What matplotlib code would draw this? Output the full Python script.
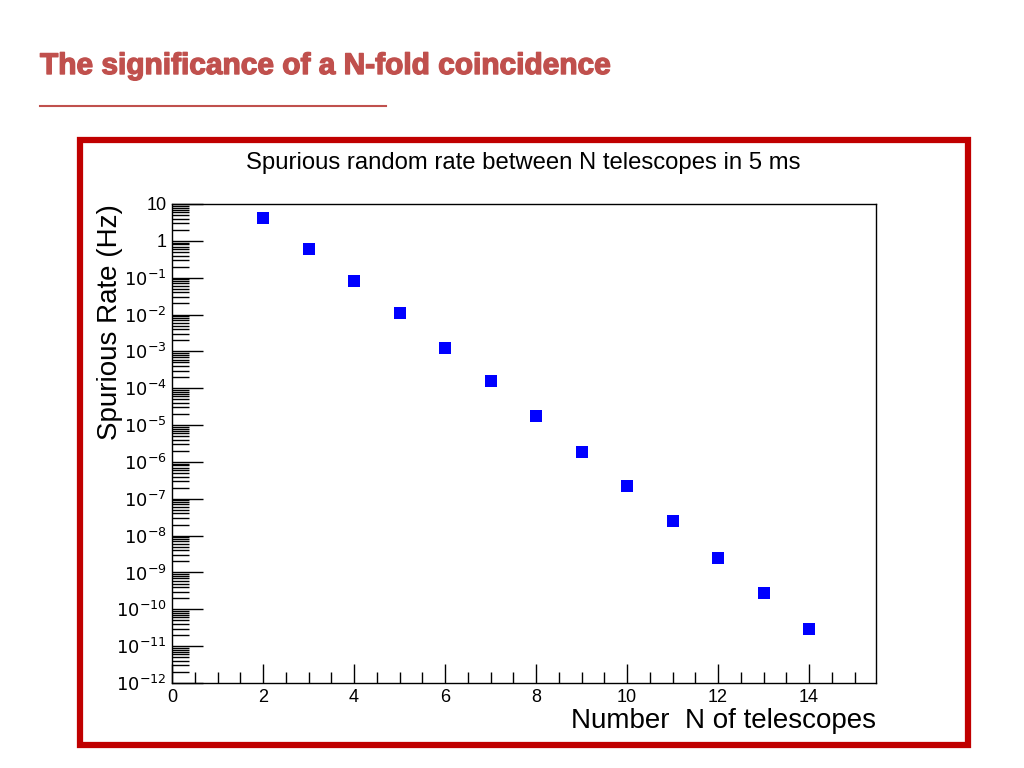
import matplotlib
matplotlib.use("Agg")
import matplotlib.pyplot as plt
from matplotlib.patches import Rectangle
from matplotlib.lines import Line2D
import matplotlib.patheffects as pe
from matplotlib.ticker import LogLocator, MultipleLocator, FuncFormatter
import numpy as np

plt.rcParams['font.family'] = ['Liberation Sans', 'DejaVu Sans']

# Data
n_telescopes = [2, 3, 4, 5, 6, 7, 8, 9, 10, 11, 12, 13, 14]
spurious_rate = [4.2, 0.6, 0.08, 0.011, 1.2e-3, 1.6e-4, 1.8e-5, 1.9e-6,
                 2.2e-7, 2.5e-8, 2.5e-9, 2.8e-10, 2.9e-11]

page_title = "The significance of a N-fold coincidence"
chart_title = "Spurious random rate between N telescopes in 5 ms"
x_label = "Number  N of telescopes"
y_label = "Spurious Rate (Hz)"

fig = plt.figure(figsize=(10.24, 7.68), dpi=100)

# Page title and underline
fig.text(40/1024, 1-66/768, page_title, color='#c0504d', fontsize=21.5,
         fontweight='bold', ha='left', va='center',
         path_effects=[pe.withStroke(linewidth=1.0, foreground='#c0504d')])
fig.add_artist(Line2D([40/1024, 386/1024], [1-106/768, 1-106/768],
                      color='#c0504d', lw=1.5, transform=fig.transFigure))

# Red frame
fig.add_artist(Rectangle((80/1024, 1-745/768), (968-80)/1024, (745-140)/768,
                         transform=fig.transFigure, fill=False,
                         edgecolor='#c00000', lw=4.5))

ax = fig.add_axes([172/1024, 1-683/768, (876-172)/1024, (683-204)/768])
ax.plot(n_telescopes, spurious_rate, 's', color='#0000ff', markersize=8,
        markeredgewidth=0)
ax.set_yscale('log')
ax.set_xlim(0, 15.47)
ax.set_ylim(1e-12, 10)

ax.xaxis.set_major_locator(MultipleLocator(2))
ax.xaxis.set_minor_locator(MultipleLocator(0.5))
ax.yaxis.set_major_locator(LogLocator(base=10, numticks=20))
ax.yaxis.set_minor_locator(LogLocator(base=10, subs=np.arange(2, 10), numticks=200))

def yfmt(v, pos):
    e = int(round(np.log10(v)))
    if e == 1:
        return "10"
    if e == 0:
        return "1"
    return r"$10^{%d}$" % e

ax.yaxis.set_major_formatter(FuncFormatter(yfmt))
ax.yaxis.set_minor_formatter(FuncFormatter(lambda v, p: ""))

ax.tick_params(axis='both', which='both', direction='in', colors='black',
               labelsize=13, width=1)
ax.tick_params(axis='y', which='major', length=22, pad=4)
ax.tick_params(axis='y', which='minor', length=12)
ax.tick_params(axis='x', which='major', length=14, pad=4)
ax.tick_params(axis='x', which='minor', length=8)
ax.tick_params(top=False, right=False)
for s in ax.spines.values():
    s.set_linewidth(1)

fig.text(523/1024, 1-163/768, chart_title, fontsize=17.2, ha='center', va='center')
ax.set_xlabel(x_label, fontsize=20, ha='right', x=1.0, labelpad=2)
ax.set_ylabel(y_label, fontsize=20, ha='right')
ax.yaxis.set_label_coords(-0.07, 1.0)

fig.savefig("out.png", dpi=100)
